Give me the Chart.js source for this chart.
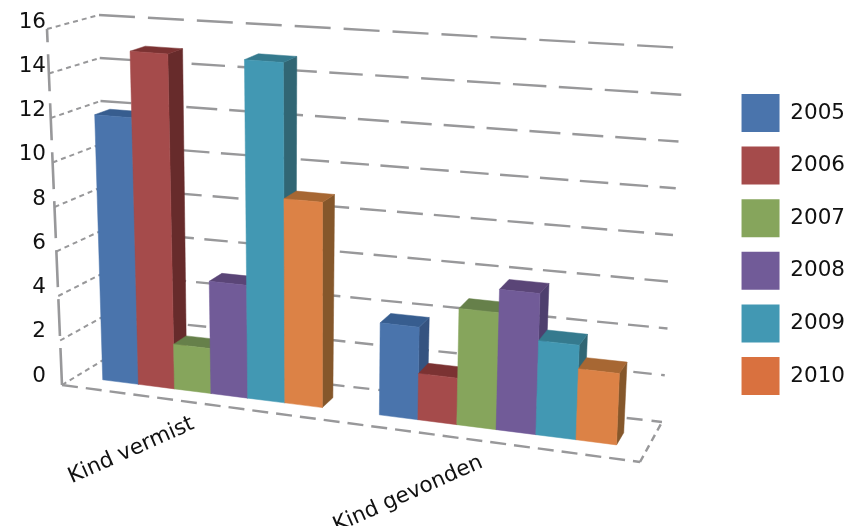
<!DOCTYPE html>
<html>
<head>
    <title>Kind vermist</title>
    <style>
        html, body { margin: 0; padding: 0; background: #fff; }
        #wrap { width: 852px; height: 526px; }
    </style>
    <script src="https://cdn.jsdelivr.net/npm/chart.js"></script>
</head>
<body>
<div id="wrap"><canvas id="chart"></canvas></div>
<script>
    var categories = ['Kind vermist', 'Kind gevonden'];
    var years = ['2005', '2006', '2007', '2008', '2009', '2010'];
    var values2005 = [12, 4];
    var values2006 = [15, 2];
    var values2007 = [2, 5];
    var values2008 = [5, 6];
    var values2009 = [15, 4];
    var values2010 = [9, 3];
    var yTicks = [0, 2, 4, 6, 8, 10, 12, 14, 16];

    var seriesValues = [values2005, values2006, values2007, values2008, values2009, values2010];
    var legendColors = ['#4a74ac', '#a54b4b', '#86a55c', '#715b98', '#4298b3', '#d9713f'];
    var frontColors = ['#4a74ac', '#a54b4b', '#86a55c', '#715b98', '#4298b3', '#dc8246'];
    var topColors = ['#375d8f', '#7b3232', '#66804a', '#5a4577', '#357a8e', '#a76733'];
    var sideColors = ['#355380', '#672b2b', '#56703c', '#4e3f6e', '#316674', '#85572b'];

    // corners of the 3d box on screen: front/back, left/right, bottom/top
    var box = {
        fl0: [62, 385], fr0: [640, 462], bl0: [105, 359], br0: [662, 422],
        fl1: [47, 29], fr1: [654, 76], bl1: [99, 15], br1: [684, 48]
    };
    var barFront = 0.33, barBack = 0.64;
    var gridColor = '#98989a';

    function mix(a, b, t) {
        return [a[0] + (b[0] - a[0]) * t, a[1] + (b[1] - a[1]) * t];
    }

    // u along the categories, v up the value axis, z into the depth (all 0..1)
    function project(u, v, z) {
        var w = u / (1 + 0.08 * (1 - u));
        var front = mix(mix(box.fl0, box.fr0, w), mix(box.fl1, box.fr1, w), v);
        var back = mix(mix(box.bl0, box.br0, w), mix(box.bl1, box.br1, w), v);
        return mix(front, back, z);
    }

    function poly(ctx, pts, color) {
        ctx.beginPath();
        ctx.moveTo(pts[0][0], pts[0][1]);
        for (var i = 1; i < pts.length; i++) ctx.lineTo(pts[i][0], pts[i][1]);
        ctx.closePath();
        ctx.fillStyle = color;
        ctx.fill();
        ctx.strokeStyle = color;
        ctx.lineWidth = 0.5;
        ctx.stroke();
    }

    function line(ctx, a, b, dash, width) {
        ctx.beginPath();
        ctx.setLineDash(dash);
        ctx.lineWidth = width;
        ctx.strokeStyle = gridColor;
        ctx.moveTo(a[0], a[1]);
        ctx.lineTo(b[0], b[1]);
        ctx.stroke();
        ctx.setLineDash([]);
    }

    function drawWalls(ctx, chart) {
        var yScale = chart.scales.y;
        var area = chart.chartArea;
        yTicks.forEach(function (t) {
            var v = (area.bottom - yScale.getPixelForValue(t)) / (area.bottom - area.top);
            // side wall, then back wall
            line(ctx, project(0, v, 0), project(0, v, 1), [5, 4], 2);
            var d = 16 + t * 1.25;
            line(ctx, project(0, v, 1), project(1, v, 1), [d, 9 + t * 0.25], 2.4);
        });
        line(ctx, project(0, 0, 0), project(1, 0, 0), [16, 8], 2.4);
        line(ctx, project(1, 0, 0), project(1, 0, 1), [7, 5], 2.4);
        line(ctx, project(0, 0, 0), project(0, 1, 0), [37, 12], 2.6);
    }

    function drawBar(ctx, chart, i, el) {
        var area = chart.chartArea;
        var w = area.right - area.left, h = area.bottom - area.top;
        var u0 = (el.x - el.width / 2 - area.left) / w;
        var u1 = (el.x + el.width / 2 - area.left) / w;
        var v = (area.bottom - el.y) / h;
        var z0 = barFront, z1 = barBack;
        poly(ctx, [project(u1, 0, z0), project(u1, 0, z1), project(u1, v, z1), project(u1, v, z0)], sideColors[i]);
        poly(ctx, [project(u0, v, z0), project(u1, v, z0), project(u1, v, z1), project(u0, v, z1)], topColors[i]);
        poly(ctx, [project(u0, 0, z0), project(u1, 0, z0), project(u1, v, z0), project(u0, v, z0)], frontColors[i]);
    }

    var box3d = {
        id: 'box3d',
        beforeDatasetsDraw: function (chart) {
            var ctx = chart.ctx;
            ctx.save();
            drawWalls(ctx, chart);
            categories.forEach(function (name, c) {
                seriesValues.forEach(function (vals, i) {
                    drawBar(ctx, chart, i, chart.getDatasetMeta(i).data[c]);
                });
                // category label hangs under the front floor edge
                var area = chart.chartArea;
                var u = (chart.scales.x.getPixelForValue(c) - area.left) / (area.right - area.left);
                var p = project(u, 0, 0);
                ctx.save();
                ctx.translate(p[0] - 3, p[1] + 25);
                ctx.rotate(-24 * Math.PI / 180);
                ctx.font = '21.5px "DejaVu Sans"';
                ctx.fillStyle = '#111';
                ctx.textAlign = 'right';
                ctx.textBaseline = 'alphabetic';
                ctx.fillText(name, 0, 0);
                ctx.restore();
            });
            ctx.restore();
            return false;
        }
    };

    var datasets = years.map(function (year, i) {
        return {
            label: year,
            data: seriesValues[i],
            backgroundColor: legendColors[i],
            borderWidth: 0,
            categoryPercentage: 0.8,
            barPercentage: 1
        };
    });

    new Chart(document.getElementById('chart'), {
        type: 'bar',
        data: { labels: categories, datasets: datasets },
        plugins: [box3d],
        options: {
            responsive: true,
            maintainAspectRatio: false,
            animation: false,
            layout: { padding: { top: 22, bottom: 59, left: 0, right: -3 } },
            plugins: {
                tooltip: { enabled: false },
                legend: {
                    position: 'right',
                    labels: {
                        boxWidth: 38,
                        boxHeight: 38,
                        padding: 14.6,
                        color: '#111',
                        font: { family: '"DejaVu Sans"', size: 21.5 }
                    }
                }
            },
            scales: {
                x: {
                    grid: { display: false },
                    border: { display: false },
                    ticks: { display: false },
                    afterFit: function (s) { s.height = 91; }
                },
                y: {
                    min: 0,
                    max: 16,
                    grid: { display: false },
                    border: { display: false },
                    afterFit: function (s) { s.width = 56; },
                    ticks: {
                        stepSize: 2,
                        padding: 2,
                        color: '#111',
                        font: { family: '"DejaVu Sans"', size: 21.5 }
                    }
                }
            }
        }
    });
</script>
</body>
</html>
